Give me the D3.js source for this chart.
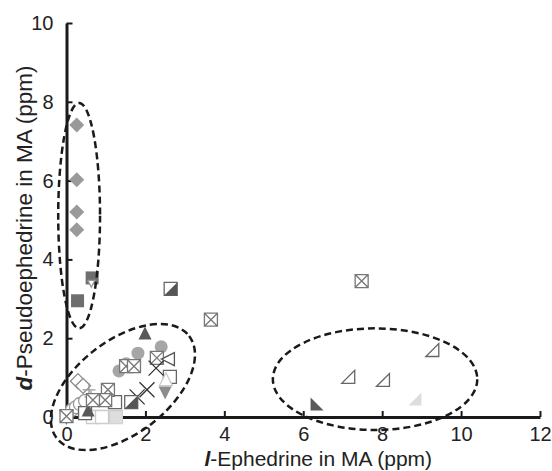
<!DOCTYPE html>
<html><head><meta charset="utf-8">
<script src="https://cdn.jsdelivr.net/npm/d3@7"></script>
<style>body{margin:0;background:#fff}svg{display:block}text{font-family:"Liberation Sans",Arial,sans-serif}</style>
</head><body><svg id="c" width="552" height="471"></svg>
<script>
// ---- data (x = l-Ephedrine ppm, y = d-Pseudoephedrine ppm) ----
const xTicks = [0, 2, 4, 6, 8, 10, 12];
const yTicks = [0, 2, 4, 6, 8, 10];
const diamondsFilled   = [[0.26,7.41],[0.26,6.02],[0.26,5.2],[0.26,4.75]];
const squaresDark      = [[0.65,3.53],[0.28,2.95]];
const triDownSmall     = [[0.63,3.38]];
const circlesFilled    = [[2.40,1.78],[1.81,1.62],[1.51,1.35],[1.33,1.17]];
const triUpDark        = [[1.99,2.13],[0.55,0.18]];
const crossedSquares   = [[1.51,1.29],[1.71,1.29],[2.29,1.50],[3.66,2.47],[7.48,3.45],[1.05,0.69],[0.98,0.43],[0.67,0.43],[0.0,0.02]];
const leftTriHollow    = [[2.57,1.47]];
const crossMarks       = [[2.27,1.24],[2.04,0.69],[1.79,0.51]];
const squaresHollow    = [[2.62,1.02],[1.23,0.38],[0.47,0.10]];
const triUpLight       = [[2.52,0.96]];
const triDownFilled    = [[2.50,0.61]];
const halfSquareDark   = [[1.64,0.38],[2.64,3.25]];
const halfSquareLight  = [[1.25,0.0]];
const diamondsHollow   = [[0.29,0.91],[0.42,0.79]];
const plusMarks        = [[0.57,0.69],[0.62,0.51]];
const circlesHollow    = [[0.14,0.18],[0.24,0.25],[0.34,0.33],[0.47,0.41]];
const squaresLight     = [[0.67,0.0],[0.90,0.0]];
const triDownHollow    = [[0.0,0.0]];
const rightTriHollow   = [[7.14,1.02],[8.02,0.94],[9.27,1.7]];
const rightTriDark     = [[6.35,0.33]];
const rightTriLight    = [[8.83,0.46]];
// ellipses: center x, center y, radii (x-units), rotation (deg, screen ccw)
const ellipses = [
  {cx:0.32, cy:5.11, rx:0.53, ry:2.86, rot:0},
  {cx:1.43, cy:0.76, rx:2.12, ry:1.18, rot:37.7},
  {cx:7.82, cy:0.96, rx:2.59, ry:1.29, rot:0}
];

// ---- styles ----
const series = [
  {d:circlesHollow, m:"circle", fill:"#fff", stroke:"#999"},
  {d:squaresLight, m:"square", fill:"#fff", stroke:"#ccc"},
  {d:halfSquareLight, m:"halfsq", fill:"#ddd", stroke:"#ccc", half:"#ddd"},
  {d:triDownHollow, m:"triDown", fill:"#fff", stroke:"#777"},
  {d:squaresHollow, m:"square", fill:"#fff", stroke:"#666"},
  {d:diamondsHollow, m:"diamond", fill:"#fff", stroke:"#888"},
  {d:plusMarks, m:"plus", fill:"none", stroke:"#999"},
  {d:triUpDark, m:"triUp", fill:"#595959", stroke:"none"},
  {d:circlesFilled, m:"circle", fill:"#a6a6a6", stroke:"none"},
  {d:crossedSquares, m:"xsquare", fill:"#fff", stroke:"#777"},
  {d:leftTriHollow, m:"triLeft", fill:"#fff", stroke:"#555"},
  {d:crossMarks, m:"cross", fill:"none", stroke:"#333"},
  {d:triUpLight, m:"triUp", fill:"#fff", stroke:"#ccc"},
  {d:triDownFilled, m:"triDown", fill:"#8c8c8c", stroke:"none"},
  {d:halfSquareDark, m:"halfsq", fill:"#fff", stroke:"#666", half:"#555"},
  {d:diamondsFilled, m:"diamond", fill:"#9a9a9a", stroke:"none"},
  {d:squaresDark, m:"square", fill:"#6e6e6e", stroke:"none"},
  {d:triDownSmall, m:"triDownS", fill:"#fff", stroke:"#999"},
  {d:rightTriHollow, m:"rtHollow", fill:"#fff", stroke:"#666"},
  {d:rightTriDark, m:"rtDark", fill:"#5a5a5a", stroke:"none"},
  {d:rightTriLight, m:"rtLight", fill:"#ddd", stroke:"none"}
];

const svg = d3.select("#c");
const x = d3.scaleLinear().domain([0,12]).range([66.5,540]);
const y = d3.scaleLinear().domain([0,10]).range([417,23]);
const S = 13, h = S/2;

function shape(m){
  switch(m){
    case "circle": return `M${h},0A${h},${h} 0 1 1 ${-h},0A${h},${h} 0 1 1 ${h},0Z`;
    case "square": case "halfsq": return `M${-h},${-h}H${h}V${h}H${-h}Z`;
    case "xsquare": return `M${-h},${-h}H${h}V${h}H${-h}Z M${-h},${-h}L${h},${h} M${h},${-h}L${-h},${h}`;
    case "diamond": return `M0,${-h-1}L${h+1},0L0,${h+1}L${-h-1},0Z`;
    case "triUp": return `M0,${-h}L${h},${h}L${-h},${h}Z`;
    case "triDown": return `M0,${h}L${h},${-h}L${-h},${-h}Z`;
    case "triDownS": return `M0,${h-3}L${h-3},${-h+3}L${-h+3},${-h+3}Z`;
    case "triLeft": return `M${-h},0L${h},${-h}L${h},${h}Z`;
    case "cross": return `M${-h-1},${-h-1}L${h+1},${h+1}M${h+1},${-h-1}L${-h-1},${h+1}`;
    case "plus": return `M${-h},0H${h}M0,${-h}V${h}`;
    case "rtHollow": case "rtLight": return `M${-h},${h}L${h},${h}L${h},${-h}Z`;
    case "rtDark": return `M${-h},${-h}L${-h},${h}L${h},${h}Z`;
  }
}

// axes
const gx = svg.append("g").attr("transform",`translate(0,${y(0)})`)
  .call(d3.axisBottom(x).tickValues(xTicks).tickSize(-6).tickSizeOuter(0).tickPadding(10));
const gy = svg.append("g").attr("transform",`translate(${x(0)},0)`)
  .call(d3.axisLeft(y).tickValues(yTicks).tickSize(-6).tickSizeOuter(0).tickPadding(13));
[gx,gy].forEach(g=>{
  g.select(".domain").attr("stroke","#1a1a1a").attr("stroke-width",3);
  g.selectAll(".tick line").attr("stroke","#1a1a1a").attr("stroke-width",2);
  g.selectAll(".tick text").attr("fill","#222").style("font-size","20px").style("font-family","'Liberation Sans',Arial,sans-serif");
});

// points
const pts = svg.append("g");
series.forEach(s=>{
  const g = pts.selectAll(null).data(s.d).join("g")
    .attr("transform",d=>`translate(${x(d[0])},${y(d[1])})`);
  g.append("path").attr("d",shape(s.m)).attr("fill",s.fill).attr("stroke",s.stroke).attr("stroke-width",1.3);
  if(s.m==="halfsq"){
    g.append("path").attr("d",`M${-h},${h}L${h},${-h}L${h},${h}Z`).attr("fill",s.half).attr("stroke","none");
  }
});

// ellipses
const eg = svg.append("g");
ellipses.forEach(e=>{
  const kx = x(1)-x(0), ky = y(0)-y(1);
  eg.append("ellipse")
    .attr("cx",0).attr("cy",0)
    .attr("rx",e.rx*kx).attr("ry",e.rot? e.ry*kx : e.ry*ky)
    .attr("transform",`translate(${x(e.cx)},${y(e.cy)}) rotate(${-e.rot})`)
    .attr("fill","none").attr("stroke","#1a1a1a").attr("stroke-width",2.5).attr("stroke-dasharray","7,4");
});

// axis titles
const xt = svg.append("text").attr("x",(x(0)+x(12))/2+15).attr("y",466).attr("text-anchor","middle")
  .style("font-size","21px").attr("fill","#222");
xt.append("tspan").text("l").style("font-style","italic").style("font-weight","bold");
xt.append("tspan").text("-Ephedrine in MA (ppm)");
const yt = svg.append("text").attr("transform",`translate(32,${228}) rotate(-90)`).attr("text-anchor","middle")
  .style("font-size","22.5px").attr("fill","#222");
yt.append("tspan").text("d").style("font-style","italic").style("font-weight","bold");
yt.append("tspan").text("-Pseudoephedrine in MA (ppm)");
</script></body></html>
